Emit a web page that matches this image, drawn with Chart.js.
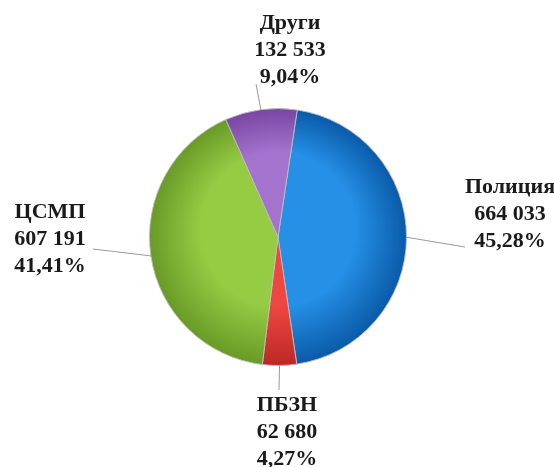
<!DOCTYPE html>
<html>
<head>
<meta charset="utf-8">
<script src="https://cdn.jsdelivr.net/npm/chart.js@4.4.0/dist/chart.umd.min.js"></script>
<style>
  html, body { margin: 0; padding: 0; background: #ffffff; }
  #wrap { width: 554px; height: 467px; }
</style>
</head>
<body>
<div id="wrap"><canvas id="myChart" width="554" height="467"></canvas></div>
<script>
// Data
const categories = ['Полиция', 'ПБЗН', 'ЦСМП', 'Други'];
const values = [664033, 62680, 607191, 132533];

// Colours for each slice: [inner, outer]
const sliceColors = [
  ['#2590e6', '#0a5aa8'],
  ['#ee4640', '#bb2824'],
  ['#96cb44', '#689a26'],
  ['#a473cd', '#7846a2']
];

// Where the labels go, relative to the pie centre (leader end, text centre x, first line y)
const labelPlacement = [
  { end: [187, 10], x: 232, y: -50 },
  { end: [1, 153], x: 9, y: 168 },
  { end: [-185, 12], x: -228, y: -25 },
  { end: [-22, -153], x: 12, y: -214 }
];

const total = values.reduce((a, b) => a + b, 0);

function formatNumber(n) {
  return String(n).replace(/\B(?=(\d{3})+(?!\d))/g, ' ');
}

function formatPercent(n) {
  return (n / total * 100).toFixed(2).replace('.', ',') + '%';
}

// Radial shading to get the bevelled look
function sliceFill(context) {
  const chart = context.chart;
  const area = chart.chartArea;
  const i = context.dataIndex;
  if (!area) return sliceColors[i][0];
  const cx = (area.left + area.right) / 2;
  const cy = (area.top + area.bottom) / 2;
  const r = Math.min(area.right - area.left, area.bottom - area.top) / 2;
  const g = chart.ctx.createRadialGradient(cx, cy - r * 0.15, 0, cx, cy, r);
  g.addColorStop(0, sliceColors[i][0]);
  g.addColorStop(0.6, sliceColors[i][0]);
  g.addColorStop(1, sliceColors[i][1]);
  return g;
}

// Labels outside the pie with leader lines
const outsideLabels = {
  id: 'outsideLabels',
  afterDraw(chart) {
    const ctx = chart.ctx;
    const meta = chart.getDatasetMeta(0);
    ctx.save();
    meta.data.forEach(function(arc, i) {
      const p = labelPlacement[i];
      const mid = (arc.startAngle + arc.endAngle) / 2;
      const sx = arc.x + Math.cos(mid) * arc.outerRadius;
      const sy = arc.y + Math.sin(mid) * arc.outerRadius;
      const ex = arc.x + p.end[0];
      const ey = arc.y + p.end[1];
      ctx.strokeStyle = '#9a9a9a';
      ctx.lineWidth = 1;
      ctx.beginPath();
      ctx.moveTo(sx, sy);
      ctx.lineTo(ex, ey);
      ctx.stroke();

      const lines = [categories[i], formatNumber(values[i]), formatPercent(values[i])];
      ctx.fillStyle = '#1a1a1a';
      ctx.font = 'bold 22px "Liberation Serif", "Times New Roman", serif';
      ctx.textAlign = 'center';
      ctx.textBaseline = 'middle';
      lines.forEach(function(t, k) {
        ctx.fillText(t, arc.x + p.x, arc.y + p.y + k * 27);
      });
    });
    ctx.restore();
  }
};

const ctx = document.getElementById('myChart').getContext('2d');
new Chart(ctx, {
  type: 'pie',
  data: {
    labels: categories,
    datasets: [{
      data: values,
      backgroundColor: sliceFill,
      borderColor: 'rgba(190,190,190,0.9)',
      borderWidth: 1
    }]
  },
  options: {
    responsive: false,
    animation: false,
    rotation: 8.6,
    layout: { padding: { left: 149, right: 147, top: 108, bottom: 101 } },
    plugins: {
      legend: { display: false },
      tooltip: { enabled: false }
    }
  },
  plugins: [outsideLabels]
});
</script>
</body>
</html>
